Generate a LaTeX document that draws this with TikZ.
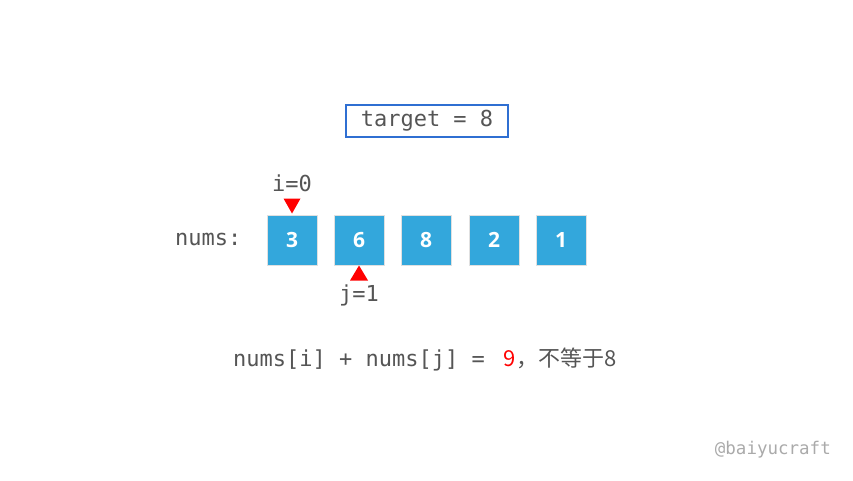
\documentclass[tikz,border=0pt]{standalone}
\usepackage{fontspec}
\newfontfamily\monof{DejaVu Sans Mono}
\newfontfamily\cjk{Noto Sans CJK SC}
\newfontfamily\boldsans{Open Sans}
\definecolor{cellblue}{HTML}{33A7DC}
\definecolor{boxblue}{HTML}{2F6FD2}
\definecolor{txtgray}{HTML}{555555}
\definecolor{wmgray}{HTML}{AAAAAA}
\begin{document}
\begin{tikzpicture}[x=1pt,y=-1pt,
  cell/.style={fill=cellblue,draw=black!12,line width=1pt,minimum width=50pt,minimum height=50pt,inner sep=0pt,
    text=white,font=\boldsans\bfseries\fontsize{21}{21}\selectfont},
  mono/.style={text=txtgray,font=\monof\fontsize{22}{22}\selectfont,inner sep=0pt},
  ptr/.style={fill=red}]
\useasboundingbox (0,0) rectangle (853,480);
% target box
\node[draw=boxblue,line width=1.2pt,minimum width=162pt,minimum height=32pt,inner sep=0pt,
  text=txtgray,font=\monof\fontsize{22}{22}\selectfont] (target) at (427,121) {target = 8};
% nums label
\node[mono,anchor=west] (lbl) at (175,239) {nums:};
% cells
\node[cell] (c0) at (292,240) {3};
\node[cell] (c1) at (359,240) {6};
\node[cell] (c2) at (426,240) {8};
\node[cell] (c3) at (494,240) {2};
\node[cell] (c4) at (561,240) {1};
% pointers
\node[mono] (ilbl) at (292,183) {i=0};
\fill[ptr] ([xshift=-8.5pt,yshift=16pt]c0.north) -- ([xshift=8.5pt,yshift=16pt]c0.north) -- ([yshift=1pt]c0.north) -- cycle;
\fill[ptr] ([xshift=-9pt,yshift=-15pt]c1.south) -- ([xshift=9pt,yshift=-15pt]c1.south) -- (c1.south) -- cycle;
\node[mono] (jlbl) at (359,295) {j=1};
% bottom text
\node[mono,anchor=base west] (eq) at (233,366) {nums[i] + nums[j] =\hspace{19pt}{\cjk\fontsize{22}{22}\selectfont\color{red}9}{\cjk\fontsize{22}{22}\selectfont ，不等于8}};
% watermark
\node[text=wmgray,font=\monof\fontsize{17.5}{17.5}\selectfont,inner sep=0pt,anchor=east] (wm) at (831,450) {@baiyucraft};
\end{tikzpicture}
\end{document}
